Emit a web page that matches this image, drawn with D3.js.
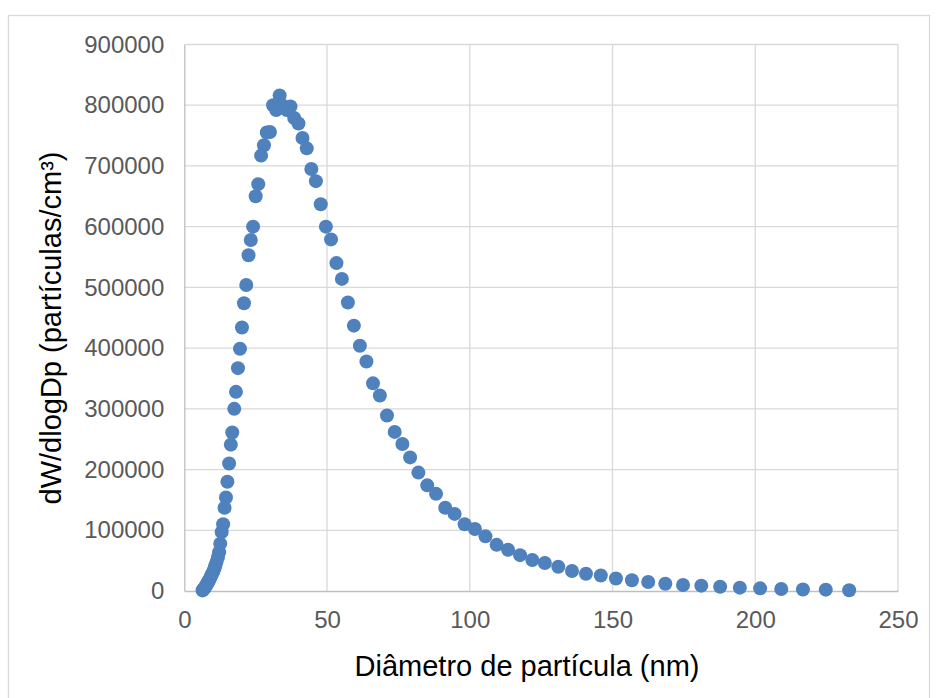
<!DOCTYPE html>
<html>
<head>
<meta charset="utf-8">
<script src="https://cdn.jsdelivr.net/npm/d3@7"></script>
<style>
  body { margin: 0; background: #fff; }
  svg text { font-family: "Liberation Sans", Arial, sans-serif; }
</style>
</head>
<body>
<div id="chart"></div>
<script>
// particle diameters (nm), SMPS channel midpoints
var diameters = [6.38, 6.61, 6.85, 7.10, 7.37, 7.64, 7.91, 8.20, 8.51, 8.82,
  9.14, 9.47, 9.82, 10.2, 10.6, 10.9, 11.3, 11.8, 12.2, 12.6,
  13.1, 13.6, 14.1, 14.6, 15.1, 15.7, 16.3, 16.8, 17.5, 18.1,
  18.8, 19.5, 20.2, 20.9, 21.7, 22.5, 23.3, 24.1, 25.0, 25.9,
  26.9, 27.9, 28.9, 30.0, 31.1, 32.2, 33.4, 34.6, 35.9, 37.2,
  38.5, 40.0, 41.4, 42.9, 44.5, 46.1, 47.8, 49.6, 51.4, 53.3,
  55.2, 57.3, 59.4, 61.5, 63.8, 66.1, 68.5, 71.0, 73.7, 76.4,
  79.1, 82.0, 85.1, 88.2, 91.4, 94.7, 98.2, 101.8, 105.5, 109.4,
  113.4, 117.6, 121.9, 126.3, 131.0, 135.8, 140.7, 145.9, 151.2, 156.8,
  162.5, 168.5, 174.7, 181.1, 187.7, 194.6, 201.7, 209.1, 216.7, 224.7,
  232.9];

// dW/dlogDp values
var concentrations = [1000, 2000, 3500, 5000, 7000, 9000, 11000, 13500, 16000, 19000,
  22000, 25500, 29000, 33000, 38000, 42000, 48000, 56000, 64000, 78000,
  97000, 110000, 137000, 154000, 180000, 210000, 241000, 261000, 300000, 328000,
  367000, 399000, 434000, 474000, 504000, 553000, 578000, 600000, 650000, 670000,
  717000, 734000, 755000, 756000, 800000, 792000, 816000, 799000, 792000, 798000,
  779000, 770000, 746000, 729000, 695000, 675000, 637000, 600000, 579000, 540000,
  514000, 475000, 437000, 404000, 378000, 342000, 322000, 289000, 262000, 242000,
  220000, 195000, 174000, 160000, 137000, 127000, 110000, 102000, 90000, 76000,
  68000, 59000, 51000, 46000, 40000, 33000, 28500, 25500, 20500, 17600,
  14800, 12000, 10000, 8800, 7100, 5500, 4400, 3300, 2500, 2200,
  1200];

var xTicks = [0, 50, 100, 150, 200, 250];
var yTicks = [0, 100000, 200000, 300000, 400000, 500000, 600000, 700000, 800000, 900000];

var svgWidth = 938;
var svgHeight = 698;

var margin = { top: 44.5, right: 40, bottom: 107, left: 184.3 };
var width = 898 - margin.left;
var height = 591 - margin.top;

var data = diameters.map(function(d, i) {
  return { dp: d, conc: concentrations[i] };
});

var svg = d3.select("#chart")
  .append("svg")
  .attr("width", svgWidth)
  .attr("height", svgHeight);

// chart border
svg.append("rect")
  .attr("x", 8.5)
  .attr("y", 15.5)
  .attr("width", 921)
  .attr("height", 700)
  .attr("fill", "#fff")
  .attr("stroke", "#d9d9d9")
  .attr("stroke-width", 1.3);

var chartGroup = svg.append("g")
  .attr("transform", `translate(${margin.left}, ${margin.top})`);

var xLinearScale = d3.scaleLinear().domain([0, 250]).range([0, width]);
var yLinearScale = d3.scaleLinear().domain([0, 900000]).range([height, 0]);

// gridlines
chartGroup.selectAll(".xgrid")
  .data(xTicks.slice(1))
  .enter()
  .append("line")
  .attr("x1", d => xLinearScale(d))
  .attr("x2", d => xLinearScale(d))
  .attr("y1", 0)
  .attr("y2", height)
  .attr("stroke", "#d9d9d9")
  .attr("stroke-width", 1.3);

chartGroup.selectAll(".ygrid")
  .data(yTicks.slice(1))
  .enter()
  .append("line")
  .attr("x1", 0)
  .attr("x2", width)
  .attr("y1", d => yLinearScale(d))
  .attr("y2", d => yLinearScale(d))
  .attr("stroke", "#d9d9d9")
  .attr("stroke-width", 1.3);

// axes
var bottomAxis = d3.axisBottom(xLinearScale).tickValues(xTicks).tickSize(0).tickPadding(20);
var leftAxis = d3.axisLeft(yLinearScale).tickValues(yTicks).tickSize(0).tickPadding(20)
  .tickFormat(d3.format("d"));

var xAxis = chartGroup.append("g")
  .attr("transform", `translate(0, ${height})`)
  .call(bottomAxis);

var yAxis = chartGroup.append("g")
  .call(leftAxis);

[xAxis, yAxis].forEach(function(ax) {
  ax.select(".domain").attr("stroke", "#bfbfbf").attr("stroke-width", 1.3);
  ax.selectAll("text")
    .attr("fill", "#595959")
    .style("font-size", "24px");
});

// points
chartGroup.selectAll("circle")
  .data(data)
  .enter()
  .append("circle")
  .attr("cx", d => xLinearScale(d.dp))
  .attr("cy", d => yLinearScale(d.conc))
  .attr("r", 7)
  .attr("fill", "#4f81bd");

// axis titles
svg.append("text")
  .attr("x", 527)
  .attr("y", 676)
  .attr("text-anchor", "middle")
  .attr("fill", "#000")
  .style("font-size", "29px")
  .text("Diâmetro de partícula (nm)");

svg.append("text")
  .attr("transform", "translate(61, 328)rotate(-90)")
  .attr("text-anchor", "middle")
  .attr("fill", "#000")
  .style("font-size", "29px")
  .text("dW/dlogDp (partículas/cm³)");
</script>
</body>
</html>
